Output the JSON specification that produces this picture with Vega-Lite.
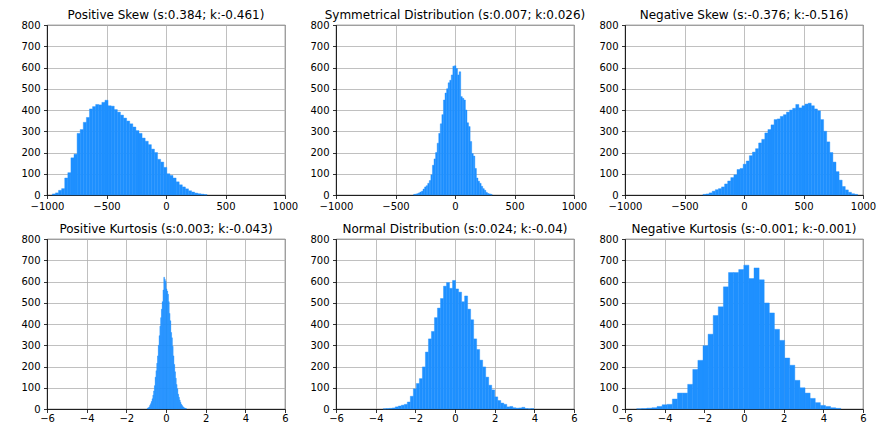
{
  "$schema": "https://vega.github.io/schema/vega-lite/v6.json",
  "background": "white",
  "padding": {"left": 20, "top": 8, "right": 5, "bottom": 0},
  "config": {
    "font": "DejaVu Sans",
    "view": {"stroke": "black", "strokeWidth": 0.8},
    "axis": {
      "labelFont": "DejaVu Sans", "labelFontSize": 10, "labelColor": "black",
      "tickColor": "black", "tickSize": 3.5, "tickWidth": 0.8, "labelPadding": 3.5,
      "domain": true, "domainColor": "black", "domainWidth": 0.8,
      "grid": true, "gridColor": "#b0b0b0", "gridWidth": 0.8, "gridOpacity": 1,
      "zindex": 1, "labelFlush": false, "labelOverlap": false, "title": null, "format": "d"
    },
    "axisX": {"labelPadding": 1},
    "title": {"font": "DejaVu Sans", "fontSize": 12, "fontWeight": "normal", "color": "black", "offset": -2}
  },
  "datasets": {
    "p1": [
      {"a":-955,"b":-929,"n":5},{"a":-929,"b":-903,"n":10},{"a":-903,"b":-877,"n":22},{"a":-877,"b":-851,"n":30},{"a":-851,"b":-825,"n":80},
      {"a":-825,"b":-799,"n":105},{"a":-799,"b":-773,"n":175},{"a":-773,"b":-747,"n":192},{"a":-747,"b":-721,"n":290},{"a":-721,"b":-695,"n":308},
      {"a":-695,"b":-669,"n":342},{"a":-669,"b":-643,"n":365},{"a":-643,"b":-617,"n":405},{"a":-617,"b":-591,"n":416},{"a":-591,"b":-565,"n":426},
      {"a":-565,"b":-539,"n":424},{"a":-539,"b":-513,"n":436},{"a":-513,"b":-487,"n":446},{"a":-487,"b":-461,"n":420},{"a":-461,"b":-435,"n":418},
      {"a":-435,"b":-409,"n":402},{"a":-409,"b":-383,"n":390},{"a":-383,"b":-357,"n":376},{"a":-357,"b":-331,"n":362},{"a":-331,"b":-305,"n":348},
      {"a":-305,"b":-279,"n":335},{"a":-279,"b":-253,"n":320},{"a":-253,"b":-227,"n":303},{"a":-227,"b":-201,"n":290},{"a":-201,"b":-175,"n":268},
      {"a":-175,"b":-149,"n":253},{"a":-149,"b":-123,"n":237},{"a":-123,"b":-97,"n":216},{"a":-97,"b":-71,"n":200},{"a":-71,"b":-45,"n":168},
      {"a":-45,"b":-19,"n":155},{"a":-19,"b":7,"n":130},{"a":7,"b":33,"n":100},{"a":33,"b":59,"n":92},{"a":59,"b":85,"n":80},
      {"a":85,"b":111,"n":62},{"a":111,"b":137,"n":48},{"a":137,"b":163,"n":38},{"a":163,"b":189,"n":29},{"a":189,"b":215,"n":20},
      {"a":215,"b":241,"n":14},{"a":241,"b":267,"n":9},{"a":267,"b":293,"n":6},{"a":293,"b":319,"n":4},{"a":319,"b":345,"n":2}
    ],
    "p2": [
      {"a":-348,"b":-334.8,"n":3},{"a":-334.8,"b":-321.6,"n":4},{"a":-321.6,"b":-308.4,"n":6},{"a":-308.4,"b":-295.2,"n":10},{"a":-295.2,"b":-282,"n":14},
      {"a":-282,"b":-268.8,"n":18},{"a":-268.8,"b":-255.6,"n":28},{"a":-255.6,"b":-242.4,"n":38},{"a":-242.4,"b":-229.2,"n":44},{"a":-229.2,"b":-216,"n":55},
      {"a":-216,"b":-202.8,"n":68},{"a":-202.8,"b":-189.6,"n":95},{"a":-189.6,"b":-176.4,"n":140},{"a":-176.4,"b":-163.2,"n":170},{"a":-163.2,"b":-150,"n":200},
      {"a":-150,"b":-136.8,"n":244},{"a":-136.8,"b":-123.6,"n":290},{"a":-123.6,"b":-110.4,"n":335},{"a":-110.4,"b":-97.2,"n":378},{"a":-97.2,"b":-84,"n":447},
      {"a":-84,"b":-70.8,"n":480},{"a":-70.8,"b":-57.6,"n":500},{"a":-57.6,"b":-44.4,"n":528},{"a":-44.4,"b":-31.2,"n":540},{"a":-31.2,"b":-18,"n":565},
      {"a":-18,"b":-4.8,"n":606},{"a":-4.8,"b":8.4,"n":608},{"a":8.4,"b":21.6,"n":595},{"a":21.6,"b":34.8,"n":565},{"a":34.8,"b":48,"n":580},
      {"a":48,"b":61.2,"n":463},{"a":61.2,"b":74.4,"n":455},{"a":74.4,"b":87.6,"n":447},{"a":87.6,"b":100.8,"n":400},{"a":100.8,"b":114,"n":340},
      {"a":114,"b":127.2,"n":322},{"a":127.2,"b":140.4,"n":252},{"a":140.4,"b":153.6,"n":195},{"a":153.6,"b":166.8,"n":183},{"a":166.8,"b":180,"n":125},
      {"a":180,"b":193.2,"n":80},{"a":193.2,"b":206.4,"n":65},{"a":206.4,"b":219.6,"n":55},{"a":219.6,"b":232.8,"n":41},{"a":232.8,"b":246,"n":30},
      {"a":246,"b":259.2,"n":22},{"a":259.2,"b":272.4,"n":12},{"a":272.4,"b":285.6,"n":7},{"a":285.6,"b":298.8,"n":5},{"a":298.8,"b":312,"n":3}
    ],
    "p3": [
      {"a":-345,"b":-319,"n":3},{"a":-319,"b":-293,"n":5},{"a":-293,"b":-267,"n":10},{"a":-267,"b":-241,"n":18},{"a":-241,"b":-215,"n":25},
      {"a":-215,"b":-189,"n":30},{"a":-189,"b":-163,"n":38},{"a":-163,"b":-137,"n":52},{"a":-137,"b":-111,"n":66},{"a":-111,"b":-85,"n":82},
      {"a":-85,"b":-59,"n":95},{"a":-59,"b":-33,"n":120},{"a":-33,"b":-7,"n":125},{"a":-7,"b":19,"n":145},{"a":19,"b":45,"n":160},
      {"a":45,"b":71,"n":185},{"a":71,"b":97,"n":202},{"a":97,"b":123,"n":218},{"a":123,"b":149,"n":245},{"a":149,"b":175,"n":262},
      {"a":175,"b":201,"n":292},{"a":201,"b":227,"n":308},{"a":227,"b":253,"n":330},{"a":253,"b":279,"n":355},{"a":279,"b":305,"n":358},
      {"a":305,"b":331,"n":370},{"a":331,"b":357,"n":378},{"a":357,"b":383,"n":390},{"a":383,"b":409,"n":400},{"a":409,"b":435,"n":408},
      {"a":435,"b":461,"n":426},{"a":461,"b":487,"n":410},{"a":487,"b":513,"n":420},{"a":513,"b":539,"n":428},{"a":539,"b":565,"n":432},
      {"a":565,"b":591,"n":420},{"a":591,"b":617,"n":405},{"a":617,"b":643,"n":396},{"a":643,"b":669,"n":355},{"a":669,"b":695,"n":300},
      {"a":695,"b":721,"n":250},{"a":721,"b":747,"n":200},{"a":747,"b":773,"n":155},{"a":773,"b":799,"n":110},{"a":799,"b":825,"n":70},
      {"a":825,"b":851,"n":40},{"a":851,"b":877,"n":24},{"a":877,"b":903,"n":13},{"a":903,"b":929,"n":6},{"a":929,"b":955,"n":3}
    ],
    "p4": [
      {"a":-0.94,"b":-0.9006,"n":4},{"a":-0.9006,"b":-0.8612,"n":6},{"a":-0.8612,"b":-0.8218,"n":10},{"a":-0.8218,"b":-0.7824,"n":18},{"a":-0.7824,"b":-0.743,"n":25},
      {"a":-0.743,"b":-0.7036,"n":35},{"a":-0.7036,"b":-0.6642,"n":48},{"a":-0.6642,"b":-0.6248,"n":65},{"a":-0.6248,"b":-0.5854,"n":85},{"a":-0.5854,"b":-0.546,"n":110},
      {"a":-0.546,"b":-0.5066,"n":150},{"a":-0.5066,"b":-0.4672,"n":180},{"a":-0.4672,"b":-0.4278,"n":215},{"a":-0.4278,"b":-0.3884,"n":250},{"a":-0.3884,"b":-0.349,"n":300},
      {"a":-0.349,"b":-0.3096,"n":345},{"a":-0.3096,"b":-0.2702,"n":390},{"a":-0.2702,"b":-0.2308,"n":430},{"a":-0.2308,"b":-0.1914,"n":470},{"a":-0.1914,"b":-0.152,"n":505},
      {"a":-0.152,"b":-0.1126,"n":560},{"a":-0.1126,"b":-0.0732,"n":620},{"a":-0.0732,"b":-0.0338,"n":610},{"a":-0.0338,"b":0.0056,"n":600},{"a":0.0056,"b":0.045,"n":565},
      {"a":0.045,"b":0.0844,"n":555},{"a":0.0844,"b":0.1238,"n":540},{"a":0.1238,"b":0.1632,"n":505},{"a":0.1632,"b":0.2026,"n":450},{"a":0.2026,"b":0.242,"n":415},
      {"a":0.242,"b":0.2814,"n":360},{"a":0.2814,"b":0.3208,"n":335},{"a":0.3208,"b":0.3602,"n":295},{"a":0.3602,"b":0.3996,"n":250},{"a":0.3996,"b":0.439,"n":210},
      {"a":0.439,"b":0.4784,"n":175},{"a":0.4784,"b":0.5178,"n":145},{"a":0.5178,"b":0.5572,"n":115},{"a":0.5572,"b":0.5966,"n":95},{"a":0.5966,"b":0.636,"n":70},
      {"a":0.636,"b":0.6754,"n":55},{"a":0.6754,"b":0.7148,"n":42},{"a":0.7148,"b":0.7542,"n":32},{"a":0.7542,"b":0.7936,"n":22},{"a":0.7936,"b":0.833,"n":16},
      {"a":0.833,"b":0.8724,"n":11},{"a":0.8724,"b":0.9118,"n":8},{"a":0.9118,"b":0.9512,"n":5},{"a":0.9512,"b":0.9906,"n":3},{"a":0.9906,"b":1.03,"n":2}
    ],
    "p5": [
      {"a":-3.62,"b":-3.468,"n":1},{"a":-3.468,"b":-3.316,"n":2},{"a":-3.316,"b":-3.164,"n":3},{"a":-3.164,"b":-3.012,"n":5},{"a":-3.012,"b":-2.86,"n":10},
      {"a":-2.86,"b":-2.708,"n":14},{"a":-2.708,"b":-2.556,"n":18},{"a":-2.556,"b":-2.404,"n":22},{"a":-2.404,"b":-2.252,"n":33},{"a":-2.252,"b":-2.1,"n":60},
      {"a":-2.1,"b":-1.948,"n":95},{"a":-1.948,"b":-1.796,"n":120},{"a":-1.796,"b":-1.644,"n":143},{"a":-1.644,"b":-1.492,"n":198},{"a":-1.492,"b":-1.34,"n":268},
      {"a":-1.34,"b":-1.188,"n":330},{"a":-1.188,"b":-1.036,"n":365},{"a":-1.036,"b":-0.884,"n":430},{"a":-0.884,"b":-0.732,"n":475},{"a":-0.732,"b":-0.58,"n":520},
      {"a":-0.58,"b":-0.428,"n":578},{"a":-0.428,"b":-0.276,"n":595},{"a":-0.276,"b":-0.124,"n":568},{"a":-0.124,"b":0.028,"n":605},{"a":0.028,"b":0.18,"n":565},
      {"a":0.18,"b":0.332,"n":550},{"a":0.332,"b":0.484,"n":505},{"a":0.484,"b":0.636,"n":532},{"a":0.636,"b":0.788,"n":470},{"a":0.788,"b":0.94,"n":420},
      {"a":0.94,"b":1.092,"n":330},{"a":1.092,"b":1.244,"n":280},{"a":1.244,"b":1.396,"n":230},{"a":1.396,"b":1.548,"n":198},{"a":1.548,"b":1.7,"n":150},
      {"a":1.7,"b":1.852,"n":112},{"a":1.852,"b":2.004,"n":90},{"a":2.004,"b":2.156,"n":57},{"a":2.156,"b":2.308,"n":40},{"a":2.308,"b":2.46,"n":28},
      {"a":2.46,"b":2.612,"n":22},{"a":2.612,"b":2.764,"n":10},{"a":2.764,"b":2.916,"n":12},{"a":2.916,"b":3.068,"n":6},{"a":3.068,"b":3.22,"n":4},
      {"a":3.22,"b":3.372,"n":5},{"a":3.372,"b":3.524,"n":8},{"a":3.524,"b":3.676,"n":2},{"a":3.676,"b":3.828,"n":1},{"a":3.828,"b":3.98,"n":2}
    ],
    "p6": [
      {"a":-5.413,"b":-5.1557,"n":1},{"a":-5.1557,"b":-4.8984,"n":2},{"a":-4.8984,"b":-4.6411,"n":4},{"a":-4.6411,"b":-4.3838,"n":6},{"a":-4.3838,"b":-4.1265,"n":12},
      {"a":-4.1265,"b":-3.8692,"n":20},{"a":-3.8692,"b":-3.6119,"n":22},{"a":-3.6119,"b":-3.3546,"n":47},{"a":-3.3546,"b":-3.0973,"n":75},{"a":-3.0973,"b":-2.84,"n":75},
      {"a":-2.84,"b":-2.5827,"n":116},{"a":-2.5827,"b":-2.3254,"n":186},{"a":-2.3254,"b":-2.0681,"n":229},{"a":-2.0681,"b":-1.8108,"n":298},{"a":-1.8108,"b":-1.5535,"n":352},
      {"a":-1.5535,"b":-1.2962,"n":440},{"a":-1.2962,"b":-1.0389,"n":481},{"a":-1.0389,"b":-0.7816,"n":575},{"a":-0.7816,"b":-0.5243,"n":642},{"a":-0.5243,"b":-0.267,"n":642},
      {"a":-0.267,"b":-0.0097,"n":656},{"a":-0.0097,"b":0.2476,"n":677},{"a":0.2476,"b":0.5049,"n":614},{"a":0.5049,"b":0.7622,"n":664},{"a":0.7622,"b":1.0195,"n":608},
      {"a":1.0195,"b":1.2768,"n":499},{"a":1.2768,"b":1.5341,"n":452},{"a":1.5341,"b":1.7914,"n":375},{"a":1.7914,"b":2.0487,"n":323},{"a":2.0487,"b":2.306,"n":240},
      {"a":2.306,"b":2.5633,"n":206},{"a":2.5633,"b":2.8206,"n":135},{"a":2.8206,"b":3.0779,"n":100},{"a":3.0779,"b":3.3352,"n":75},{"a":3.3352,"b":3.5925,"n":50},
      {"a":3.5925,"b":3.8498,"n":30},{"a":3.8498,"b":4.1071,"n":17},{"a":4.1071,"b":4.3644,"n":12},{"a":4.3644,"b":4.6217,"n":6},{"a":4.6217,"b":4.879,"n":3}
    ]
  },
  "columns": 3,
  "spacing": {"row": 44, "column": 51},
  "bounds": "flush",
  "concat": [
    {
      "data": {"name": "p1"}, "width": 238, "height": 170,
      "title": "Positive Skew (s:0.384; k:-0.461)",
      "mark": {"type": "rect", "color": "#1E90FF", "stroke": "#1E90FF", "strokeWidth": 0.4},
      "encoding": {
        "x": {"field": "a", "type": "quantitative", "scale": {"domain": [-1000, 1000], "nice": false, "zero": false}, "axis": {"values": [-1000, -500, 0, 500, 1000], "labelPadding": 3}},
        "x2": {"field": "b"},
        "y": {"field": "n", "type": "quantitative", "scale": {"domain": [0, 800], "nice": false}, "axis": {"values": [0, 100, 200, 300, 400, 500, 600, 700, 800]}},
        "y2": {"datum": 0}
      }
    },
    {
      "data": {"name": "p2"}, "width": 238, "height": 170,
      "title": "Symmetrical Distribution (s:0.007; k:0.026)",
      "mark": {"type": "rect", "color": "#1E90FF", "stroke": "#1E90FF", "strokeWidth": 0.4},
      "encoding": {
        "x": {"field": "a", "type": "quantitative", "scale": {"domain": [-1000, 1000], "nice": false, "zero": false}, "axis": {"values": [-1000, -500, 0, 500, 1000], "labelPadding": 3}},
        "x2": {"field": "b"},
        "y": {"field": "n", "type": "quantitative", "scale": {"domain": [0, 800], "nice": false}, "axis": {"values": [0, 100, 200, 300, 400, 500, 600, 700, 800]}},
        "y2": {"datum": 0}
      }
    },
    {
      "data": {"name": "p3"}, "width": 238, "height": 170,
      "title": "Negative Skew (s:-0.376; k:-0.516)",
      "mark": {"type": "rect", "color": "#1E90FF", "stroke": "#1E90FF", "strokeWidth": 0.4},
      "encoding": {
        "x": {"field": "a", "type": "quantitative", "scale": {"domain": [-1000, 1000], "nice": false, "zero": false}, "axis": {"values": [-1000, -500, 0, 500, 1000], "labelPadding": 3}},
        "x2": {"field": "b"},
        "y": {"field": "n", "type": "quantitative", "scale": {"domain": [0, 800], "nice": false}, "axis": {"values": [0, 100, 200, 300, 400, 500, 600, 700, 800]}},
        "y2": {"datum": 0}
      }
    },
    {
      "data": {"name": "p4"}, "width": 238, "height": 170,
      "title": "Positive Kurtosis (s:0.003; k:-0.043)",
      "mark": {"type": "rect", "color": "#1E90FF", "stroke": "#1E90FF", "strokeWidth": 0.4},
      "encoding": {
        "x": {"field": "a", "type": "quantitative", "scale": {"domain": [-6, 6], "nice": false, "zero": false}, "axis": {"values": [-6, -4, -2, 0, 2, 4, 6]}},
        "x2": {"field": "b"},
        "y": {"field": "n", "type": "quantitative", "scale": {"domain": [0, 800], "nice": false}, "axis": {"values": [0, 100, 200, 300, 400, 500, 600, 700, 800]}},
        "y2": {"datum": 0}
      }
    },
    {
      "data": {"name": "p5"}, "width": 238, "height": 170,
      "title": "Normal Distribution (s:0.024; k:-0.04)",
      "mark": {"type": "rect", "color": "#1E90FF", "stroke": "#1E90FF", "strokeWidth": 0.4},
      "encoding": {
        "x": {"field": "a", "type": "quantitative", "scale": {"domain": [-6, 6], "nice": false, "zero": false}, "axis": {"values": [-6, -4, -2, 0, 2, 4, 6]}},
        "x2": {"field": "b"},
        "y": {"field": "n", "type": "quantitative", "scale": {"domain": [0, 800], "nice": false}, "axis": {"values": [0, 100, 200, 300, 400, 500, 600, 700, 800]}},
        "y2": {"datum": 0}
      }
    },
    {
      "data": {"name": "p6"}, "width": 238, "height": 170,
      "title": "Negative Kurtosis (s:-0.001; k:-0.001)",
      "mark": {"type": "rect", "color": "#1E90FF", "stroke": "#1E90FF", "strokeWidth": 0.4},
      "encoding": {
        "x": {"field": "a", "type": "quantitative", "scale": {"domain": [-6, 6], "nice": false, "zero": false}, "axis": {"values": [-6, -4, -2, 0, 2, 4, 6]}},
        "x2": {"field": "b"},
        "y": {"field": "n", "type": "quantitative", "scale": {"domain": [0, 800], "nice": false}, "axis": {"values": [0, 100, 200, 300, 400, 500, 600, 700, 800]}},
        "y2": {"datum": 0}
      }
    }
  ]
}
